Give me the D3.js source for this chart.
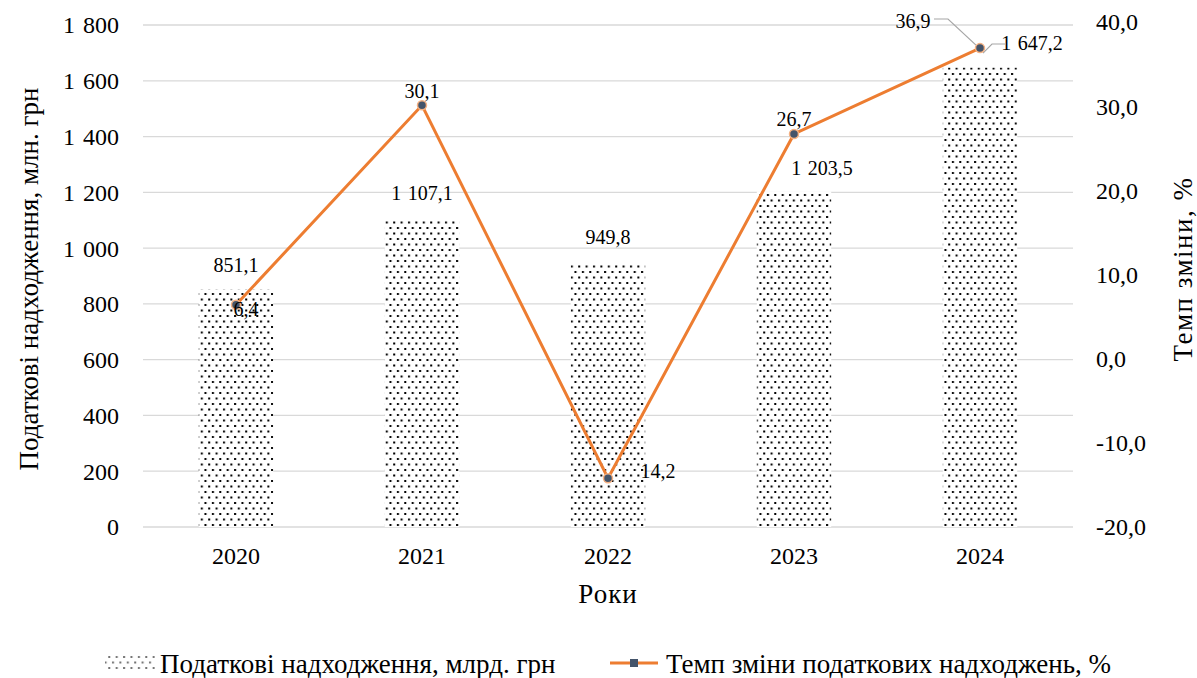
<!DOCTYPE html>
<html>
<head>
<meta charset="utf-8">
<script src="https://cdn.jsdelivr.net/npm/d3@7"></script>
<style>
    body { margin: 0; background: #fff; }
    text { font-family: "Liberation Serif", "Times New Roman", serif; fill: #000; }
</style>
</head>
<body>
<svg id="chart" width="1197" height="678"></svg>
<script>
    'use strict';

    var years = ['2020', '2021', '2022', '2023', '2024'];
    var revenue = [851.1, 1107.1, 949.8, 1203.5, 1647.2];
    var rate = [6.4, 30.1, -14.2, 26.7, 36.9];
    var rateLabels = ['6,4', '30,1', '14,2', '26,7', '36,9'];
    var leftTicks = [0, 200, 400, 600, 800, 1000, 1200, 1400, 1600, 1800];
    var rightTicks = [-20, -10, 0, 10, 20, 30, 40];

    var locale = d3.formatLocale({ decimal: ',', thousands: '\u2004', grouping: [3], currency: ['', ''], minus: '-' });
    var fmtInt = locale.format(',d');
    var fmt1 = locale.format(',.1f');

    var svg = d3.select('#chart');
    var plot = { left: 143, right: 1073, top: 25, bottom: 527 };

    var x = d3.scaleBand().domain(years).range([plot.left, plot.right]).paddingInner(0.6).paddingOuter(0.3);
    var xc = function(d) { return x(d) + x.bandwidth() / 2; };
    var yL = d3.scaleLinear().domain([0, 1800]).range([plot.bottom, plot.top]);
    var yR = d3.scaleLinear().domain([-20, 40]).range([plot.bottom, plot.top - 3]);

    // dotted pattern for bars
    var defs = svg.append('defs');
    var pat = defs.append('pattern')
        .attr('id', 'dots')
        .attr('patternUnits', 'userSpaceOnUse')
        .attr('width', 7.4).attr('height', 11);
    pat.append('rect').attr('width', 7.4).attr('height', 11).attr('fill', '#fff');
    pat.append('rect').attr('x', 1).attr('y', 1.5).attr('width', 2).attr('height', 2).attr('fill', '#000');
    pat.append('rect').attr('x', 4.7).attr('y', 7).attr('width', 2).attr('height', 2).attr('fill', '#000');

    // gridlines
    svg.append('g')
        .selectAll('line')
        .data(leftTicks)
        .enter().append('line')
        .attr('x1', plot.left).attr('x2', plot.right)
        .attr('y1', function(d) { return yL(d); })
        .attr('y2', function(d) { return yL(d); })
        .attr('stroke', '#d9d9d9')
        .attr('stroke-width', 1.3);

    // left axis labels
    svg.append('g')
        .selectAll('text')
        .data(leftTicks)
        .enter().append('text')
        .attr('x', 119)
        .attr('y', function(d) { return yL(d); })
        .attr('dy', '0.35em')
        .attr('text-anchor', 'end')
        .style('font-size', '24px')
        .text(function(d) { return fmtInt(d); });

    // right axis labels
    svg.append('g')
        .selectAll('text')
        .data(rightTicks)
        .enter().append('text')
        .attr('x', 1096)
        .attr('y', function(d) { return yR(d); })
        .attr('dy', '0.35em')
        .attr('text-anchor', 'start')
        .style('font-size', '24px')
        .text(function(d) { return fmt1(d); });

    // x axis labels
    svg.append('g')
        .selectAll('text')
        .data(years)
        .enter().append('text')
        .attr('x', xc)
        .attr('y', 564)
        .attr('text-anchor', 'middle')
        .style('font-size', '24px')
        .text(function(d) { return d; });

    svg.append('text')
        .attr('x', 608).attr('y', 603)
        .attr('text-anchor', 'middle')
        .style('font-size', '27px')
        .style('letter-spacing', '1px')
        .text('Роки');

    svg.append('text')
        .attr('transform', 'translate(38,279) rotate(-90)')
        .attr('text-anchor', 'middle')
        .style('font-size', '27px')
        .text('Податкові надходження, млн. грн');

    svg.append('text')
        .attr('transform', 'translate(1192,269) rotate(-90)')
        .attr('text-anchor', 'middle')
        .style('font-size', '27px')
        .style('letter-spacing', '1.5px')
        .text('Темп зміни, %');

    // bars
    svg.append('g')
        .selectAll('rect')
        .data(revenue)
        .enter().append('rect')
        .attr('x', function(d, i) { return x(years[i]); })
        .attr('width', x.bandwidth())
        .attr('y', function(d) { return yL(d); })
        .attr('height', function(d) { return yL(0) - yL(d); })
        .attr('fill', 'url(#dots)');

    // bar value labels
    var barLabelDx = [0, 0, 0, 28, 52];
    var barLabelDy = [-18, -18, -18, -16, -18];
    svg.append('g')
        .selectAll('text')
        .data(revenue)
        .enter().append('text')
        .attr('x', function(d, i) { return xc(years[i]) + barLabelDx[i]; })
        .attr('y', function(d, i) { return yL(d) + barLabelDy[i]; })
        .attr('text-anchor', 'middle')
        .style('font-size', '20px')
        .text(function(d) { return fmt1(d); });

    // leader lines for the crowded 2024 labels
    var p24 = [xc('2024'), yR(rate[4])];
    svg.append('polyline')
        .attr('points', [[934, 19], [948, 19], [p24[0] - 4, p24[1] - 3]].join(' '))
        .attr('fill', 'none').attr('stroke', '#a6a6a6').attr('stroke-width', 1.2);
    svg.append('polyline')
        .attr('points', [[1006, 44], [992, 44], [p24[0] + 3, p24[1] + 5]].join(' '))
        .attr('fill', 'none').attr('stroke', '#a6a6a6').attr('stroke-width', 1.2);

    // rate line
    var line = d3.line()
        .x(function(d, i) { return xc(years[i]); })
        .y(function(d) { return yR(d); });

    svg.append('path')
        .datum(rate)
        .attr('d', line)
        .attr('fill', 'none')
        .attr('stroke', '#ed7d31')
        .attr('stroke-width', 3);

    svg.append('g')
        .selectAll('circle')
        .data(rate)
        .enter().append('circle')
        .attr('cx', function(d, i) { return xc(years[i]); })
        .attr('cy', function(d) { return yR(d); })
        .attr('r', 4.5)
        .attr('fill', '#44546a')
        .attr('stroke', '#f4b183')
        .attr('stroke-width', 1.5);

    // rate labels
    var rateDx = [10, 0, 50, 0, -67];
    var rateDy = [11, -7, 0, -8, -20];
    svg.append('g')
        .selectAll('text')
        .data(rate)
        .enter().append('text')
        .attr('x', function(d, i) { return xc(years[i]) + rateDx[i]; })
        .attr('y', function(d, i) { return yR(d) + rateDy[i]; })
        .attr('text-anchor', 'middle')
        .style('font-size', '20px')
        .text(function(d, i) { return rateLabels[i]; });

    // legend
    var lg = svg.append('g');
    lg.append('rect')
        .attr('x', 105).attr('y', 656).attr('width', 50).attr('height', 14)
        .attr('fill', 'url(#dots)').attr('opacity', 0.55);
    lg.append('text')
        .attr('x', 160).attr('y', 673)
        .style('font-size', '27px')
        .text('Податкові надходження, млрд. грн');

    lg.append('line')
        .attr('x1', 610).attr('x2', 658).attr('y1', 663).attr('y2', 663)
        .attr('stroke', '#ed7d31').attr('stroke-width', 3);
    lg.append('rect')
        .attr('x', 630).attr('y', 659).attr('width', 8).attr('height', 8)
        .attr('fill', '#44546a');
    lg.append('text')
        .attr('x', 666).attr('y', 673)
        .style('font-size', '27px')
        .text('Темп зміни податкових надходжень, %');
</script>
</body>
</html>
